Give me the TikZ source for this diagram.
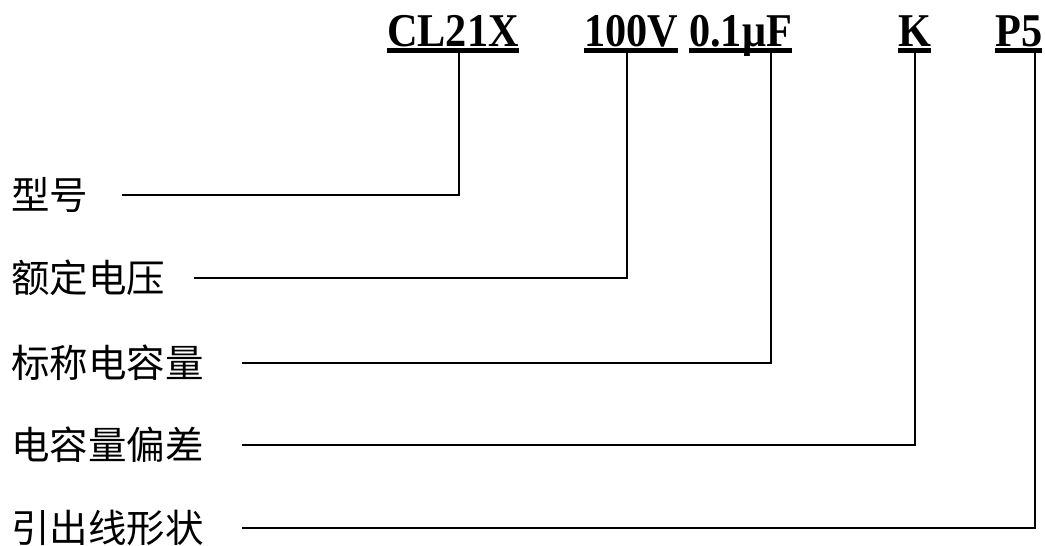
\documentclass[tikz,border=0pt]{standalone}
\usepackage{fontspec}
\setmainfont{Liberation Serif}
\newfontfamily\cjk{Noto Sans CJK SC}
\begin{document}
\begin{tikzpicture}[x=1pt,y=-1pt,
  code/.style={font=\fontsize{47}{47}\selectfont\bfseries, inner sep=0pt, anchor=base west},
  lab/.style={font=\cjk\fontsize{38.5}{38.5}\selectfont, inner sep=0pt, anchor=west},
  wire/.style={line width=1.5pt, line join=miter},
  ulbar/.style={fill=black}]
\useasboundingbox (0,0) rectangle (1045,546);
% codes
\node[code] (m1) at (387,46) {\scalebox{0.9}[1]{CL21X}};
\node[code] (m2) at (584,46) {\scalebox{0.9}[1]{100V}};
\node[code] (m3) at (689,46) {\scalebox{0.9}[1]{0.1μF}};
\node[code] (m4) at (898,46) {\scalebox{0.9}[1]{K}};
\node[code] (m5) at (995,46) {\scalebox{0.9}[1]{P5}};
\foreach \m in {m1,m2,m3,m4,m5}
  \fill[ulbar] ([yshift=-1.5pt]\m.base west) rectangle ([yshift=-6.5pt]\m.base east);
% labels
\node[lab] (l1) at (11,195) {型号};
\node[lab] (l2) at (11,278) {额定电压};
\node[lab] (l3) at (11,363) {标称电容量};
\node[lab] (l4) at (11,445) {电容量偏差};
\node[lab] (l5) at (11,528) {引出线形状};
% connector points
\coordinate (s1) at (122,195); \coordinate (c1) at (459,195); \coordinate (t1) at (459,52);
\coordinate (s2) at (194,278); \coordinate (c2) at (627,278); \coordinate (t2) at (627,52);
\coordinate (s3) at (242,363); \coordinate (c3) at (771,363); \coordinate (t3) at (771,52);
\coordinate (s4) at (242,445); \coordinate (c4) at (915,445); \coordinate (t4) at (915,52);
\coordinate (s5) at (242,528); \coordinate (c5) at (1035,528); \coordinate (t5) at (1035,52);
\foreach \i in {1,...,5}
  \draw[wire] (s\i) -- (c\i) -- (t\i);
\end{tikzpicture}
\end{document}
